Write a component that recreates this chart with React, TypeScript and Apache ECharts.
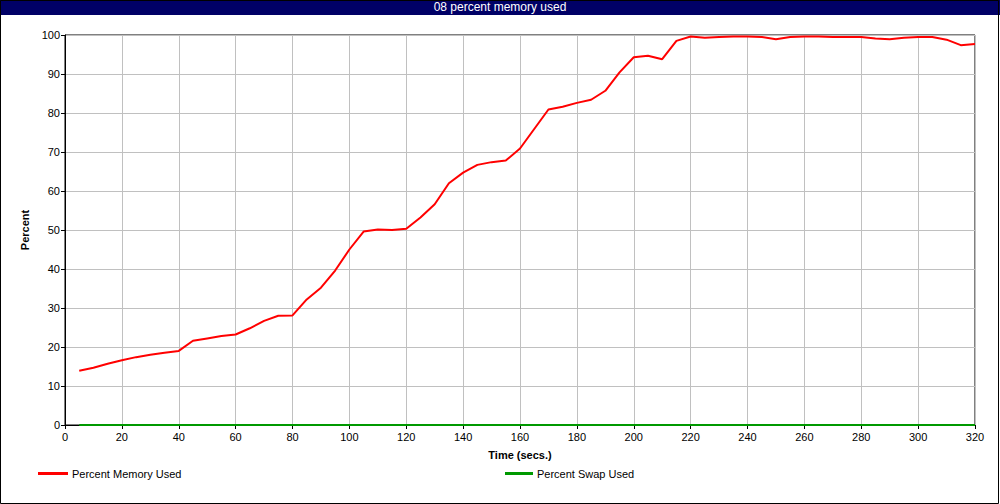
import React, { useEffect, useRef } from "react";
import * as echarts from "echarts";

const chartTitle = "08 percent memory used";
const times = [
  5, 10, 15, 20, 25, 30, 35, 40, 45, 50, 55, 60, 65, 70, 75, 80, 85, 90, 95, 100,
  105, 110, 115, 120, 125, 130, 135, 140, 145, 150, 155, 160, 165, 170, 175, 180,
  185, 190, 195, 200, 205, 210, 215, 220, 225, 230, 235, 240, 245, 250, 255, 260,
  265, 270, 275, 280, 285, 290, 295, 300, 305, 310, 315, 320,
];
const memoryUsed = [
  13.9, 14.7, 15.7, 16.6, 17.4, 18.0, 18.5, 19.0, 21.6, 22.2, 22.8, 23.2, 24.8, 26.7,
  28.0, 28.1, 32.2, 35.2, 39.6, 45.0, 49.6, 50.1, 50.0, 50.3, 53.2, 56.6, 62.0, 64.7,
  66.7, 67.4, 67.8, 70.9, 75.9, 80.9, 81.6, 82.6, 83.4, 85.7, 90.4, 94.3, 94.7, 93.8,
  98.5, 99.6, 99.3, 99.5, 99.6, 99.6, 99.5, 98.9, 99.5, 99.6, 99.6, 99.5, 99.5, 99.5,
  99.1, 98.9, 99.3, 99.5, 99.5, 98.8, 97.4, 97.7,
];
const swapUsed = [
  0, 0, 0, 0, 0, 0, 0, 0, 0, 0, 0, 0, 0, 0, 0, 0, 0, 0, 0, 0, 0, 0, 0, 0, 0, 0, 0, 0,
  0, 0, 0, 0, 0, 0, 0, 0, 0, 0, 0, 0, 0, 0, 0, 0, 0, 0, 0, 0, 0, 0, 0, 0, 0, 0, 0, 0,
  0, 0, 0, 0, 0, 0, 0, 0,
];
const seriesNames = ["Percent Memory Used", "Percent Swap Used"];
const xAxisName = "Time (secs.)";
const yAxisName = "Percent";

const FONT = "'Liberation Sans', Arial, sans-serif";

export default function App() {
  const ref = useRef<HTMLDivElement>(null);
  useEffect(() => {
    if (!ref.current) return;
    const chart = echarts.init(ref.current, undefined, { renderer: "svg" });
    const axisLabel = { color: "#000", fontSize: 11, fontFamily: FONT, margin: 6 };
    const legendText = { color: "#000", fontSize: 11, fontFamily: FONT, padding: [0, 0, 0, -1] };
    chart.setOption({
      animation: false,
      backgroundColor: "#fff",
      textStyle: { fontFamily: FONT },
      graphic: [
        {
          type: "rect",
          shape: { x: 0, y: 0, width: 1000, height: 15 },
          style: { fill: "#000066" },
          z: 0,
        },
        {
          type: "rect",
          shape: { x: 0.5, y: 0.5, width: 998, height: 503 },
          style: { fill: "none", stroke: "#000", lineWidth: 1 },
          z: 10,
        },
      ],
      title: {
        text: chartTitle,
        left: "center",
        top: 1,
        padding: 0,
        textStyle: { color: "#fff", fontSize: 12, fontWeight: "normal", fontFamily: FONT },
        z: 20,
      },
      grid: { left: 65, right: 25, top: 35, bottom: 79, show: true, borderColor: "#000", borderWidth: 1 },
      legend: [
        {
          data: [seriesNames[0]],
          left: 38,
          top: 468,
          padding: 0,
          itemWidth: 30,
          itemHeight: 3,
          icon: "rect",
          textStyle: legendText,
        },
        {
          data: [seriesNames[1]],
          left: 505,
          top: 468,
          padding: 0,
          itemWidth: 28,
          itemHeight: 3,
          icon: "rect",
          textStyle: legendText,
        },
      ],
      xAxis: {
        type: "value",
        min: 0,
        max: 320,
        interval: 20,
        name: xAxisName,
        nameLocation: "middle",
        nameGap: 24,
        nameTextStyle: { color: "#000", fontWeight: "bold", fontSize: 11, fontFamily: FONT },
        axisLine: { show: true, lineStyle: { color: "#000", width: 1 } },
        axisTick: { show: true, length: 4, lineStyle: { color: "#000" } },
        axisLabel,
        splitLine: { show: true, lineStyle: { color: "#c0c0c0", width: 1 } },
      },
      yAxis: {
        type: "value",
        min: 0,
        max: 100,
        interval: 10,
        name: yAxisName,
        nameLocation: "middle",
        nameGap: 30,
        nameRotate: 90,
        nameTextStyle: { color: "#000", fontWeight: "bold", fontSize: 11, fontFamily: FONT },
        axisLine: { show: true, lineStyle: { color: "#000", width: 1 } },
        axisTick: { show: true, length: 4, lineStyle: { color: "#000" } },
        axisLabel: { ...axisLabel, margin: 5 },
        splitLine: { show: true, lineStyle: { color: "#c0c0c0", width: 1 } },
      },
      series: [
        {
          name: seriesNames[0],
          type: "line",
          data: times.map((t, i) => [t, memoryUsed[i]]),
          showSymbol: false,
          symbol: "none",
          lineStyle: { color: "#ff0000", width: 2 },
          itemStyle: { color: "#ff0000" },
          z: 3,
        },
        {
          name: seriesNames[1],
          type: "line",
          data: times.map((t, i) => [t, swapUsed[i]]),
          showSymbol: false,
          symbol: "none",
          lineStyle: { color: "#009900", width: 2 },
          itemStyle: { color: "#009900" },
          z: 4,
        },
      ],
    });
    return () => chart.dispose();
  }, []);
  return (
    <div
      ref={ref}
      style={{ position: "fixed", left: 0, top: 0, width: 1000, height: 504 }}
    />
  );
}
